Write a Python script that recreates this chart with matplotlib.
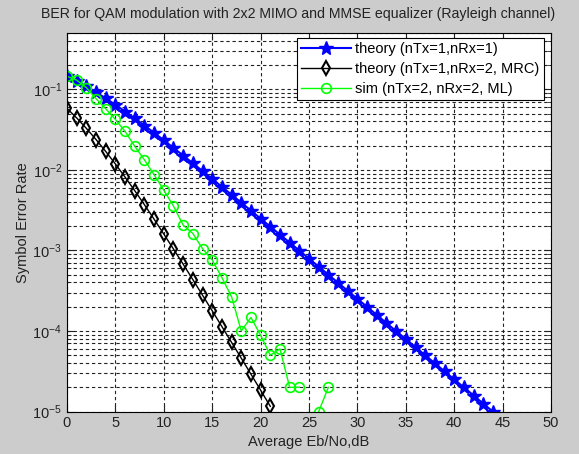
import numpy as np
import matplotlib.pyplot as plt
from matplotlib.ticker import LogLocator, NullFormatter

plt.rcParams['font.family'] = ['Liberation Sans', 'DejaVu Sans']

# theory, 1 Tx 1 Rx (0..44 dB)
snr_theory = list(range(0, 45))
ser_1x1 = [0.1464, 0.1267, 0.1085, 0.0919, 0.0771, 0.0642, 0.0530, 0.0435, 0.0355, 0.0288,
           0.0233, 0.01874, 0.01506, 0.01207, 0.00966, 0.00772, 0.00616, 0.00491, 0.00392, 0.00312,
           0.00248, 0.00197, 0.00157, 0.00125, 0.000995, 0.000790, 0.000628, 0.000499, 0.000396, 0.000315,
           0.000250, 0.000199, 0.000158, 0.000125, 9.96e-5, 7.91e-5, 6.28e-5, 4.99e-5, 3.96e-5, 3.15e-5,
           2.50e-5, 1.99e-5, 1.58e-5, 1.25e-5, 0.995e-5]

# theory, 1 Tx 2 Rx MRC (0..21 dB)
snr_mrc = list(range(0, 22))
ser_mrc = [0.0580, 0.0441, 0.03276, 0.02379, 0.01692, 0.01184, 0.00813, 0.00551, 0.00369, 0.00244,
           0.001595, 0.00104, 0.000674, 0.000434, 0.000278, 0.000178, 0.0001134, 7.21e-5, 4.6e-5, 2.91e-5,
           1.84e-5, 1.16e-5]

# simulation, 2x2 ML (0..27 dB, nothing at 25 dB)
snr_sim = list(range(0, 28))
ser_sim = [0.145, 0.13, 0.105, 0.0764, 0.0574, 0.0422, 0.030, 0.0196, 0.0133, 0.0087,
           0.0056, 0.00355, 0.00206, 0.00162, 0.00105, 0.00076, 0.00046, 0.000266, 0.0001, 0.000147,
           0.0000885, 0.00005, 0.00006, 0.00002, 0.00002, np.nan, 0.00001, 0.00002]

xticks = [0, 5, 10, 15, 20, 25, 30, 35, 40, 45, 50]

fig = plt.figure(figsize=(5.79, 4.54), dpi=100)
fig.patch.set_facecolor('#cccccc')
ax = fig.add_axes([0.1157, 0.0936, 0.836, 0.8337])
ax.set_facecolor('white')

ax.semilogy(snr_theory, ser_1x1, color='#0000ff', lw=1.5, marker='*', markersize=10,
            label='theory (nTx=1,nRx=1)')
ax.semilogy(snr_mrc, ser_mrc, color='k', lw=1.0, marker='d', markersize=7, mfc='none', mew=1.5,
            label='theory (nTx=1,nRx=2, MRC)')
ax.semilogy(snr_sim, ser_sim, color='#00ff00', lw=1.0, marker='o', markersize=7, mfc='none', mew=1.2,
            label='sim (nTx=2, nRx=2, ML)')

ax.set_xlim(0, 50)
ax.set_ylim(1e-5, 0.5)
ax.set_xticks(xticks)
ax.set_yticks([1e-5, 1e-4, 1e-3, 1e-2, 1e-1])
ax.yaxis.set_minor_locator(LogLocator(base=10, subs=np.arange(2, 10)))
ax.yaxis.set_minor_formatter(NullFormatter())
ax.tick_params(which='both', direction='in', top=True, right=True, labelsize=10.5, colors='#222222')
ax.tick_params(which='major', length=5)
ax.tick_params(which='minor', length=3)

# 添加网格线
ax.grid(which='major', axis='both', color='#222222', linestyle=(0, (3, 2.5)), lw=0.8)
ax.grid(which='minor', axis='y', color='#222222', linestyle=(0, (3, 2.5)), lw=0.8)

ax.set_title('BER for QAM modulation with 2x2 MIMO and MMSE equalizer (Rayleigh channel)',
             fontsize=10.2, color='#222222', pad=11, x=0.477)
ax.set_xlabel('Average Eb/No,dB', fontsize=10.5, color='#222222', labelpad=3)
ax.set_ylabel('Symbol Error Rate', fontsize=10.5, color='#222222', labelpad=2)

leg = ax.legend(loc='upper right', bbox_to_anchor=(0.9855, 0.987), borderaxespad=0, fontsize=10.5,
                numpoints=1, handlelength=3.4, fancybox=False, framealpha=1, edgecolor='k',
                borderpad=0.3, labelspacing=0.4, handletextpad=0.3)
leg.get_frame().set_linewidth(0.8)

plt.savefig('out.png', dpi=100, facecolor=fig.get_facecolor())
